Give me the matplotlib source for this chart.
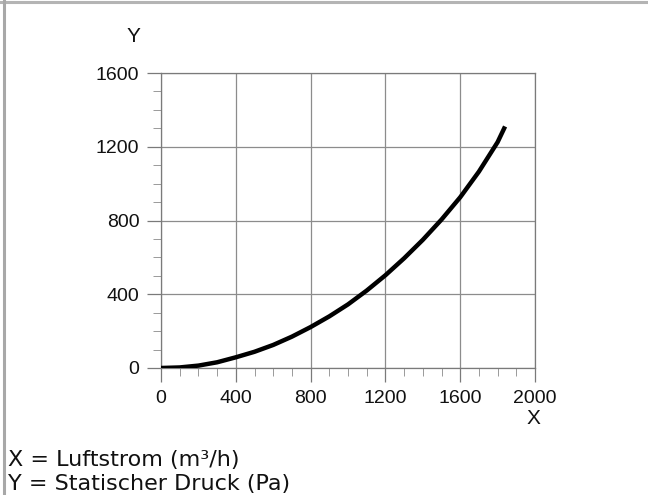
import matplotlib.pyplot as plt
from matplotlib.lines import Line2D
from matplotlib.ticker import MultipleLocator

# Kennlinie
luftstrom = [0, 100, 200, 300, 400, 500, 600, 700, 800, 900, 1000,
             1100, 1200, 1300, 1400, 1500, 1600, 1700, 1800, 1840]
druck = [0, 3, 13, 31, 58, 88, 125, 170, 222, 280, 345,
         420, 503, 595, 695, 805, 926, 1065, 1225, 1310]

x_ticks = [0, 400, 800, 1200, 1600, 2000]
y_ticks = [0, 400, 800, 1200, 1600]

fig = plt.figure(figsize=(6.48, 4.95), dpi=100)
ax = fig.add_axes([161/648, 1-368/495, 374/648, 295/495])

ax.plot(luftstrom, druck, color='black', linewidth=3.2, solid_capstyle='butt',
        solid_joinstyle='round', zorder=3)

ax.set_xlim(0, 2000)
ax.set_ylim(0, 1600)
ax.set_xticks(x_ticks)
ax.set_yticks(y_ticks)
ax.xaxis.set_minor_locator(MultipleLocator(100))
ax.yaxis.set_minor_locator(MultipleLocator(100))
ax.grid(True, which='major', color='#8c8c8c', linewidth=0.9)

for s in ax.spines.values():
    s.set_color('#7a7a7a')
    s.set_linewidth(0.9)

ax.tick_params(which='major', length=10, width=0.9, color='#7a7a7a', pad=5.5,
               labelsize=14, labelcolor='#111111')
ax.tick_params(which='minor', length=5.5, width=0.7, color='#9a9a9a')
for lab in ax.get_xticklabels() + ax.get_yticklabels():
    lab.set_fontfamily('Liberation Sans')

fig.text(133/648, 1-36/495, 'Y', ha='center', va='center', fontsize=15,
         family='Liberation Sans', color='#111111')
fig.text(533/648, 1-418/495, 'X', ha='center', va='center', fontsize=15,
         family='Liberation Sans', color='#111111')

fig.text(8/648, 1-460/495, 'X = Luftstrom (m³/h)', ha='left', va='center',
         fontsize=16, family='DejaVu Sans', color='#111111')
fig.text(8/648, 1-484/495, 'Y = Statischer Druck (Pa)', ha='left', va='center',
         fontsize=16, family='DejaVu Sans', color='#111111')

# grauer Rahmen oben und links
fig.add_artist(Line2D([0, 1], [1-1.5/495, 1-1.5/495], color='#b4b4b4', linewidth=2.2))
fig.add_artist(Line2D([3.5/648, 3.5/648], [0, 1], color='#a8a8a8', linewidth=2.2))

fig.savefig('out.png', dpi=100)
